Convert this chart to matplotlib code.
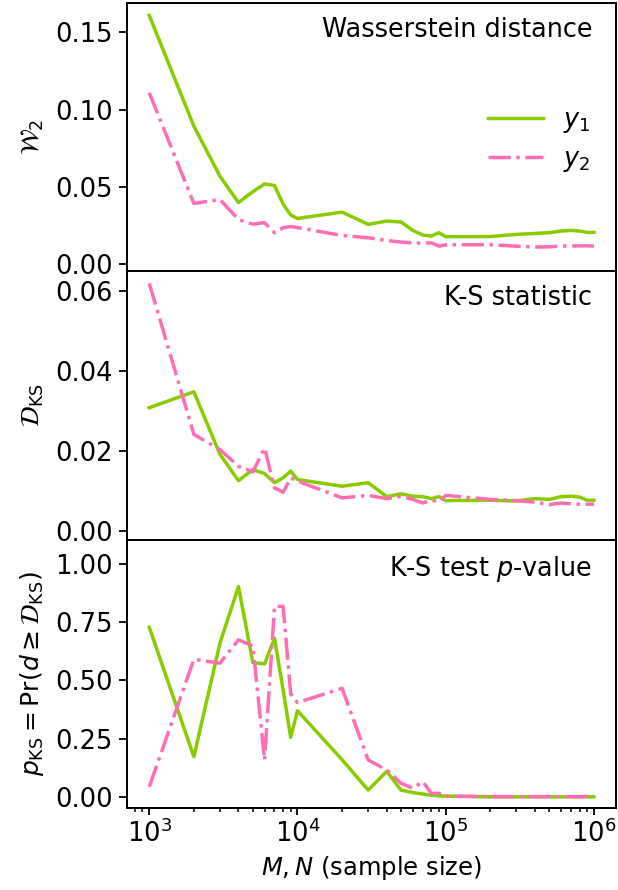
import numpy as np
import matplotlib
matplotlib.use("Agg")
import matplotlib.pyplot as plt

# sample sizes M, N
sizes = [1e3, 2e3, 3e3, 4e3, 5e3, 6e3, 7e3, 8e3, 9e3,
         1e4, 2e4, 3e4, 4e4, 5e4, 6e4, 7e4, 8e4, 9e4,
         1e5, 2e5, 3e5, 4e5, 5e5, 6e5, 7e5, 8e5, 9e5, 1e6]

# Wasserstein distance
w2_y1 = [0.161, 0.0894, 0.057, 0.040, 0.047, 0.052, 0.051, 0.039, 0.032,
         0.0297, 0.0338, 0.0259, 0.028, 0.0274, 0.022, 0.019, 0.0183, 0.0205,
         0.0179, 0.018, 0.0194, 0.020, 0.0205, 0.0216, 0.022, 0.0216, 0.0207, 0.0207]
w2_y2 = [0.111, 0.0394, 0.042, 0.029, 0.026, 0.027, 0.0205, 0.0237, 0.0245,
         0.0238, 0.0187, 0.0172, 0.0155, 0.0144, 0.014, 0.0136, 0.014, 0.0118,
         0.0127, 0.0127, 0.0118, 0.0112, 0.0114, 0.0118, 0.012, 0.012, 0.012, 0.0118]

# Kolmogorov-Smirnov statistic
ks_y1 = [0.0308, 0.0348, 0.0191, 0.0125, 0.0153, 0.0143, 0.012, 0.0132, 0.0149,
         0.0128, 0.0111, 0.012, 0.0085, 0.0092, 0.0086, 0.0085, 0.008, 0.0085,
         0.0075, 0.0076, 0.0074, 0.008, 0.0078, 0.0085, 0.0086, 0.0084, 0.0076, 0.0076]
ks_y2 = [0.062, 0.0241, 0.0203, 0.0161, 0.0147, 0.0207, 0.0107, 0.0096, 0.0132,
         0.0124, 0.0082, 0.0088, 0.008, 0.0086, 0.0078, 0.0069, 0.0076, 0.0072,
         0.0088, 0.0078, 0.0075, 0.0071, 0.0065, 0.0069, 0.0067, 0.0066, 0.0066, 0.0066]

# K-S test p-values
p_y1 = [0.728, 0.173, 0.66, 0.902, 0.576, 0.571, 0.681, 0.46, 0.256,
        0.37, 0.16, 0.03, 0.11, 0.03, 0.019, 0.013, 0.008, 0.005,
        0.004, 0.001, 0.001, 0.001, 0.001, 0.001, 0.001, 0.001, 0.001, 0.001]
p_y2 = [0.044, 0.59, 0.574, 0.674, 0.648, 0.159, 0.817, 0.817, 0.442,
        0.405, 0.466, 0.159, 0.116, 0.059, 0.038, 0.066, 0.016, 0.016,
        0.004, 0.002, 0.002, 0.002, 0.002, 0.002, 0.002, 0.002, 0.002, 0.002]

green = "#88cc00"
pink = "#ff6eb4"
lw = 2.5
fs_tick = 18.5
fs_title = 18.4
fs_ylab = 18
fs_xlab = 17.5

plt.rcParams["mathtext.fontset"] = "dejavusans"
plt.rcParams["axes.linewidth"] = 1.4
plt.rcParams["xtick.major.size"] = 5.0
plt.rcParams["ytick.major.size"] = 6.0
plt.rcParams["ytick.major.pad"] = 4.0
plt.rcParams["xtick.minor.size"] = 2.9
plt.rcParams["xtick.major.width"] = 1.3
plt.rcParams["ytick.major.width"] = 1.3
plt.rcParams["xtick.minor.width"] = 1.1

fig, axes = plt.subplots(3, 1, sharex=True, figsize=(6.18, 8.9), dpi=100)
fig.subplots_adjust(left=0.2055, right=0.997, top=0.9966, bottom=0.0921, hspace=0)

panels = [
    (w2_y1, w2_y2, r"$\mathcal{W}_2$", "Wasserstein distance",
     (-0.0045, 0.169), [0.0, 0.05, 0.10, 0.15]),
    (ks_y1, ks_y2, r"$\mathcal{D}_{\mathrm{KS}}$", "K-S statistic",
     (-0.0023, 0.065), [0.0, 0.02, 0.04, 0.06]),
    (p_y1, p_y2, r"$p_{\mathrm{KS}} = \mathrm{Pr}(d \geq \mathcal{D}_{\mathrm{KS}})$",
     r"K-S test $p$-value", (-0.047, 1.103), [0.0, 0.25, 0.5, 0.75, 1.0]),
]

for ax, (a, b, ylab, title, ylim, yt) in zip(axes, panels):
    ax.plot(sizes, a, color=green, lw=lw, ls="-", label=r"$y_1$")
    ax.plot(sizes, b, color=pink, lw=lw, ls="-.", label=r"$y_2$")
    ax.set_xscale("log")
    ax.set_ylim(*ylim)
    ax.set_yticks(yt)
    ax.set_yticklabels([f"{v:.2f}" for v in yt])
    ax.set_ylabel(ylab, fontsize=fs_ylab, labelpad=7)
    ax.text(0.951, 0.948, title, transform=ax.transAxes, ha="right", va="top",
            fontsize=fs_title)
    ax.tick_params(labelsize=fs_tick)

axes[0].legend(loc="upper right", bbox_to_anchor=(0.995, 0.70), frameon=False,
               fontsize=fs_title, handlelength=2.15, labelspacing=0.45)
axes[-1].set_xlim(10 ** 2.85, 10 ** 6.15)
axes[-1].set_xlabel(r"$M, N$ (sample size)", fontsize=fs_xlab)

fig.align_ylabels(axes)
fig.savefig("out.png", dpi=100)
